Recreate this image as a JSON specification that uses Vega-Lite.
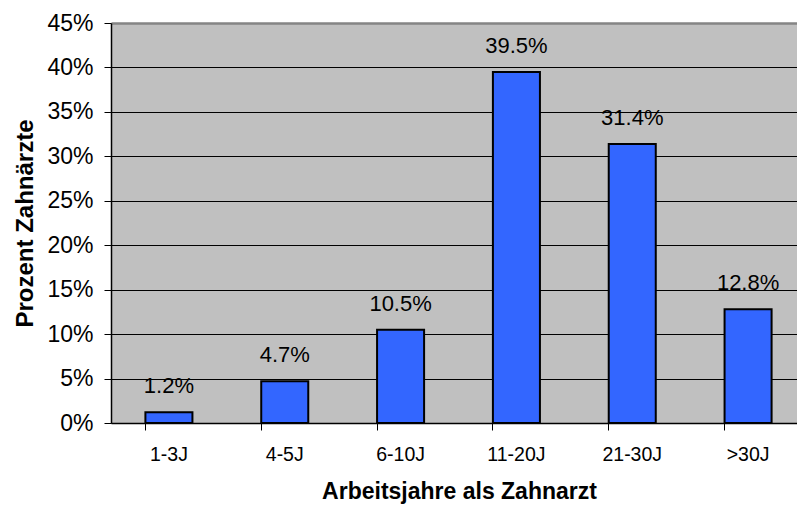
{
  "$schema": "https://vega.github.io/schema/vega-lite/v6.json",
  "width": 686,
  "height": 400,
  "autosize": {"type": "none"},
  "padding": {"left": 111, "top": 23, "right": 0, "bottom": 86},
  "background": "white",
  "config": {
    "view": {"fill": "#C0C0C0", "stroke": null},
    "font": "Liberation Sans"
  },
  "data": {
    "values": [
      {"Arbeitsjahre": "1-3J", "Anteil": 0.012},
      {"Arbeitsjahre": "4-5J", "Anteil": 0.047},
      {"Arbeitsjahre": "6-10J", "Anteil": 0.105},
      {"Arbeitsjahre": "11-20J", "Anteil": 0.395},
      {"Arbeitsjahre": "21-30J", "Anteil": 0.314},
      {"Arbeitsjahre": ">30J", "Anteil": 0.128}
    ]
  },
  "encoding": {
    "x": {
      "field": "Arbeitsjahre",
      "type": "nominal",
      "sort": null,
      "scale": {"range": [0, 695], "paddingInner": 0.594, "paddingOuter": 0.297},
      "axis": {
        "title": "Arbeitsjahre als Zahnarzt",
        "titleFont": "Liberation Sans",
        "titleFontSize": 23,
        "titleFontWeight": "bold",
        "titleColor": "black",
        "titlePadding": 17,
        "titleX": 348,
        "labelFont": "Liberation Sans",
        "labelFontSize": 19.5,
        "labelColor": "black",
        "labelAngle": 0,
        "labelPadding": 15,
        "bandPosition": 0,
        "tickColor": "black",
        "tickSize": 7,
        "domainColor": "black",
        "domainWidth": 1.5,
        "grid": false
      }
    },
    "y": {
      "field": "Anteil",
      "type": "quantitative",
      "scale": {"domain": [0, 0.45], "nice": false},
      "axis": {
        "title": "Prozent Zahnärzte",
        "titleFont": "Liberation Sans",
        "titleFontSize": 24,
        "titleFontWeight": "bold",
        "titleColor": "black",
        "titlePadding": 9,
        "format": ".0%",
        "values": [0, 0.05, 0.1, 0.15, 0.2, 0.25, 0.3, 0.35, 0.4, 0.45],
        "labelFont": "Liberation Sans",
        "labelFontSize": 23,
        "labelColor": "black",
        "labelPadding": 11,
        "tickColor": "black",
        "tickSize": 7,
        "domainColor": "black",
        "domainWidth": 1.5,
        "grid": true,
        "gridColor": {"condition": {"test": "datum.value >= 0.449", "value": "#858585"}, "value": "black"},
        "gridWidth": {"condition": {"test": "datum.value >= 0.449", "value": 2.5}, "value": 1},
        "gridOpacity": 1
      }
    }
  },
  "layer": [
    {
      "mark": {"type": "bar", "color": "#3366FF", "stroke": "black", "strokeWidth": 2}
    },
    {
      "mark": {"type": "text", "baseline": "alphabetic", "dy": -19, "fontSize": 22, "font": "Liberation Sans", "color": "black"},
      "encoding": {
        "text": {"field": "Anteil", "type": "quantitative", "format": ".1%"}
      }
    }
  ]
}
